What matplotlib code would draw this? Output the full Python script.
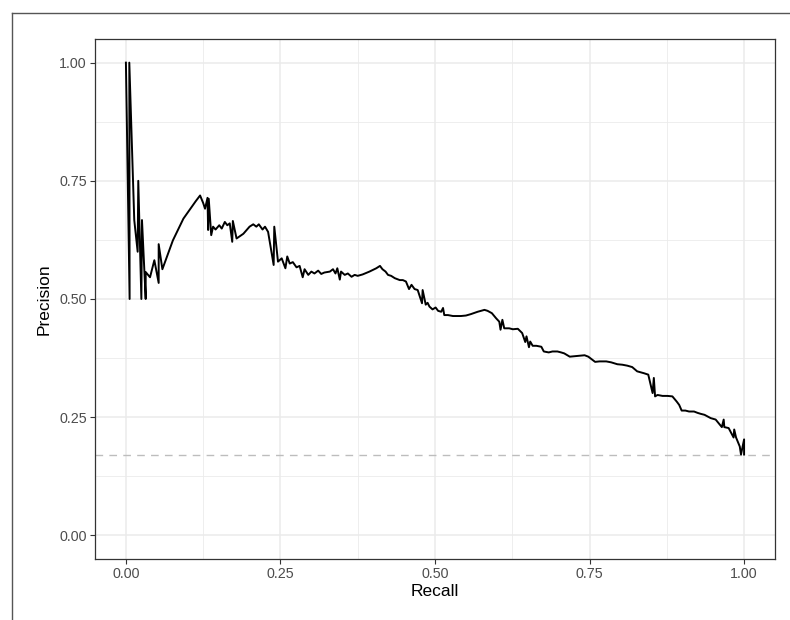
import numpy as np
import matplotlib
matplotlib.use("Agg")
import matplotlib.pyplot as plt
from matplotlib.lines import Line2D

plt.rcParams['font.family'] = ['Liberation Sans', 'DejaVu Sans']

# --------------------------------------------------------------
# Data
# --------------------------------------------------------------
recall = [
    0.000, 0.006, 0.0055, 0.0135, 0.019, 0.020, 0.025, 0.026, 0.032, 0.032,
    0.039, 0.046, 0.053, 0.053, 0.059, 0.076, 0.093, 0.113, 0.120, 0.125,
    0.128, 0.132, 0.133, 0.134, 0.138, 0.141, 0.145, 0.151, 0.155, 0.160,
    0.164, 0.168, 0.172, 0.173, 0.179, 0.190, 0.200, 0.206, 0.211, 0.215,
    0.221, 0.225, 0.230, 0.239, 0.240, 0.246, 0.252, 0.258, 0.261, 0.265,
    0.270, 0.276, 0.281, 0.286, 0.289, 0.295, 0.300, 0.305, 0.311, 0.316,
    0.321, 0.330, 0.335, 0.339, 0.342, 0.346, 0.348, 0.354, 0.359, 0.365,
    0.370, 0.375, 0.383, 0.394, 0.405, 0.411, 0.415, 0.420, 0.424, 0.429,
    0.435, 0.443, 0.448, 0.453, 0.458, 0.462, 0.467, 0.472, 0.479, 0.480,
    0.485, 0.488, 0.491, 0.496, 0.501, 0.505, 0.510, 0.513, 0.515, 0.521,
    0.529, 0.542, 0.550, 0.558, 0.569, 0.580, 0.585, 0.592, 0.599, 0.604,
    0.606, 0.609, 0.612, 0.620, 0.626, 0.634, 0.641, 0.646, 0.648, 0.652,
    0.654, 0.658, 0.664, 0.672, 0.676, 0.684, 0.690, 0.698, 0.704, 0.709,
    0.718, 0.733, 0.742, 0.748, 0.759, 0.766, 0.777, 0.785, 0.795, 0.803,
    0.811, 0.819, 0.827, 0.838, 0.845, 0.852, 0.854, 0.856, 0.860, 0.868,
    0.876, 0.884, 0.891, 0.895, 0.899, 0.905, 0.911, 0.919, 0.925, 0.930,
    0.936, 0.946, 0.954, 0.964, 0.967, 0.968, 0.975, 0.983, 0.984, 0.987,
    0.993, 0.995, 1.000, 1.000,
]
precision = [
    1.000, 0.500, 1.000, 0.667, 0.600, 0.750, 0.500, 0.667, 0.500, 0.557,
    0.546, 0.582, 0.534, 0.616, 0.563, 0.624, 0.670, 0.707, 0.719, 0.703,
    0.691, 0.714, 0.646, 0.712, 0.635, 0.653, 0.647, 0.656, 0.649, 0.663,
    0.656, 0.660, 0.621, 0.665, 0.628, 0.638, 0.653, 0.658, 0.653, 0.658,
    0.647, 0.653, 0.642, 0.572, 0.653, 0.579, 0.586, 0.565, 0.590, 0.575,
    0.578, 0.567, 0.570, 0.546, 0.563, 0.551, 0.558, 0.554, 0.560, 0.553,
    0.556, 0.558, 0.563, 0.554, 0.565, 0.541, 0.558, 0.551, 0.554, 0.547,
    0.551, 0.549, 0.552, 0.558, 0.565, 0.570, 0.563, 0.558, 0.551, 0.549,
    0.544, 0.540, 0.540, 0.537, 0.521, 0.530, 0.521, 0.519, 0.491, 0.519,
    0.488, 0.492, 0.484, 0.478, 0.482, 0.475, 0.473, 0.481, 0.466, 0.466,
    0.464, 0.464, 0.465, 0.468, 0.473, 0.477, 0.475, 0.470, 0.459, 0.452,
    0.435, 0.456, 0.438, 0.438, 0.436, 0.437, 0.428, 0.409, 0.421, 0.398,
    0.410, 0.401, 0.401, 0.399, 0.389, 0.387, 0.389, 0.389, 0.387, 0.385,
    0.378, 0.380, 0.381, 0.378, 0.367, 0.368, 0.368, 0.366, 0.362, 0.361,
    0.359, 0.356, 0.347, 0.343, 0.340, 0.301, 0.333, 0.294, 0.297, 0.295,
    0.295, 0.294, 0.283, 0.276, 0.264, 0.264, 0.262, 0.262, 0.259, 0.257,
    0.255, 0.248, 0.245, 0.229, 0.245, 0.229, 0.227, 0.207, 0.224, 0.207,
    0.188, 0.171, 0.203, 0.171,
]
baseline = 0.171

x_ticks = [0.00, 0.25, 0.50, 0.75, 1.00]
y_ticks = [0.00, 0.25, 0.50, 0.75, 1.00]
tick_labels = ["0.00", "0.25", "0.50", "0.75", "1.00"]

# --------------------------------------------------------------
# Plot
# --------------------------------------------------------------
fig = plt.figure(figsize=(7.9, 6.2), dpi=100)
ax = fig.add_axes([95 / 790, 1 - 559 / 620, 680 / 790, 520 / 620])

ax.plot(recall, precision, color="black", lw=1.4, zorder=3)
ax.axhline(baseline, color="#bdbdbd", lw=1.0, linestyle=(0, (5.5, 4.5)), zorder=2)

ax.set_xlim(-0.05, 1.05)
ax.set_ylim(-0.05, 1.05)
ax.set_xticks(x_ticks)
ax.set_yticks(y_ticks)
ax.set_xticklabels(tick_labels)
ax.set_yticklabels(tick_labels)
ax.set_xticks(np.arange(0.125, 1.0, 0.25), minor=True)
ax.set_yticks(np.arange(0.125, 1.0, 0.25), minor=True)

ax.grid(which="major", color="#ebebeb", lw=1.1, zorder=0)
ax.grid(which="minor", color="#ebebeb", lw=0.6, zorder=0)
ax.set_axisbelow(True)

ax.tick_params(which="major", length=3.5, width=0.8, color="#333333",
               labelcolor="#4d4d4d", labelsize=10.3, pad=2.5)
ax.tick_params(which="minor", length=0)
for s in ax.spines.values():
    s.set_color("#333333")
    s.set_linewidth(0.9)

ax.set_xlabel("Recall", fontsize=12.5, color="black", labelpad=2)
ax.set_ylabel("Precision", fontsize=12.5, color="black", labelpad=5)

# outer frame (top and left edges)
fig.add_artist(Line2D([12 / 790, 1.0], [1 - 13 / 620, 1 - 13 / 620],
                      transform=fig.transFigure, color="#555555", lw=1.0))
fig.add_artist(Line2D([12 / 790, 12 / 790], [0.0, 1 - 13 / 620],
                      transform=fig.transFigure, color="#555555", lw=1.0))

fig.savefig("out.png", dpi=100)
